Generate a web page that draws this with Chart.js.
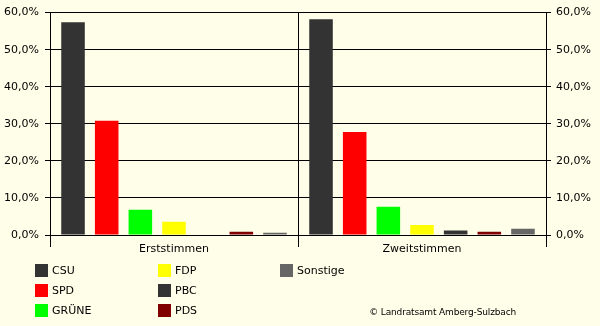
<!DOCTYPE html>
<html>
<head>
<meta charset="utf-8">
<script src="https://cdn.jsdelivr.net/npm/chart.js@4"></script>
<style>
  body { margin: 0; background: #fffee9; }
  #wrap { position: relative; width: 600px; height: 326px; background: #fffee9; }
  #chart { position: absolute; left: 0; top: 0; }
  .leg { position: absolute; font: 11px "DejaVu Sans", sans-serif; color: #000; line-height: 13px; white-space: nowrap; }
  .leg span.box { position: absolute; left: 0; top: 0; width: 13px; height: 13px; }
  .leg span.txt { position: absolute; left: 17px; top: 0; }
  #copy { position: absolute; right: 84px; top: 307px; font: 9px "DejaVu Sans", sans-serif; letter-spacing: -0.15px; color: #000; }
</style>
</head>
<body>
<div id="wrap">
  <canvas id="chart" width="600" height="326"></canvas>
  <div id="copy">© Landratsamt Amberg-Sulzbach</div>
</div>
<script>
// Landtagswahl-Ergebnis, Anteile in Prozent
const categories = ['Erststimmen', 'Zweitstimmen'];
const parties = ['CSU', 'SPD', 'GRÜNE', 'FDP', 'PBC', 'PDS', 'Sonstige'];
const partyColors = ['#333333', '#ff0000', '#00ff00', '#ffff00', '#333333', '#800000', '#666666'];
const erststimmen = [57.4, 30.8, 6.8, 3.6, 0, 0.9, 0.6];
const zweitstimmen = [58.2, 27.8, 7.6, 2.7, 1.2, 0.9, 1.7];
const yTicks = [0, 10, 20, 30, 40, 50, 60];

Chart.defaults.font.family = '"DejaVu Sans", sans-serif';
Chart.defaults.font.size = 11;
Chart.defaults.color = '#000';

const fmt = (v) => v.toFixed(1).replace('.', ',') + '%';

const datasets = parties.map((p, i) => ({
  label: p,
  data: [erststimmen[i], zweitstimmen[i]],
  backgroundColor: partyColors[i],
  borderWidth: 0,
  barPercentage: 0.7,
  categoryPercentage: 0.95
}));

new Chart(document.getElementById('chart'), {
  type: 'bar',
  data: { labels: categories, datasets: datasets },
  options: {
    responsive: false,
    animation: false,
    devicePixelRatio: 1,
    layout: { padding: { top: 10 } },
    plugins: { legend: { display: false }, tooltip: { enabled: false } },
    scales: {
      x: {
        grid: { color: '#000', offset: true, tickLength: 12 },
        border: { color: '#000' },
        ticks: { padding: -4 },
        afterFit: (s) => { s.height = 91; }
      },
      y: {
        min: 0, max: 60,
        afterBuildTicks: (s) => { s.ticks = yTicks.map(v => ({ value: v })); },
        ticks: { callback: fmt, padding: 6 },
        grid: { color: '#000', tickLength: 5 },
        border: { color: '#000' },
        afterFit: (s) => { s.width = 50; }
      },
      y2: {
        position: 'right',
        min: 0, max: 60,
        afterBuildTicks: (s) => { s.ticks = yTicks.map(v => ({ value: v })); },
        ticks: { callback: fmt, padding: 5 },
        grid: { color: '#000', tickLength: 5, drawOnChartArea: false },
        border: { color: '#000' },
        afterFit: (s) => { s.width = 54; }
      }
    }
  }
});

// Legende in drei Spalten (spaltenweise befüllt)
const wrap = document.getElementById('wrap');
const colX = [35, 158, 280];
const rowY = [264, 284, 304];
parties.forEach((p, i) => {
  const el = document.createElement('div');
  el.className = 'leg';
  el.style.left = colX[Math.floor(i / 3)] + 'px';
  el.style.top = rowY[i % 3] + 'px';
  el.innerHTML = '<span class="box" style="background:' + partyColors[i] + '"></span><span class="txt">' + p + '</span>';
  wrap.appendChild(el);
});
</script>
</body>
</html>
